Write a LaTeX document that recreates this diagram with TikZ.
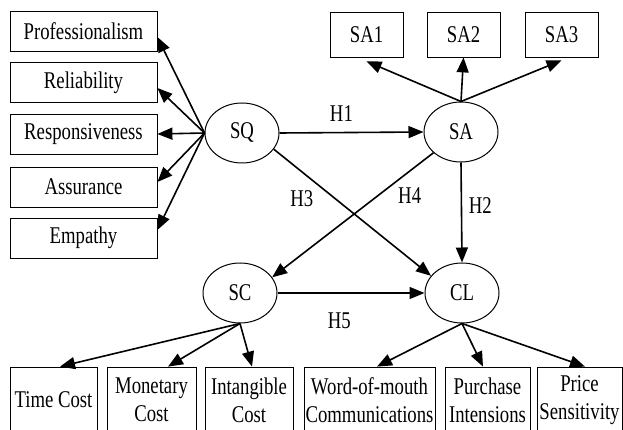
\documentclass[tikz,border=0pt]{standalone}
\usepackage{fontspec}
\setmainfont{Liberation Serif}[FakeStretch=0.78]
\usetikzlibrary{arrows.meta, shapes.geometric}

\begin{document}
\begin{tikzpicture}[
    x=1pt, y=-1pt,
    >={Triangle[length=15pt, width=12pt]},
    font=\fontsize{24}{28.4}\selectfont,
    dimbox/.style={
        draw, line width=0.8pt, inner sep=0pt,
        minimum width=147pt, minimum height=40pt,
    },
    subbox/.style={
        draw, line width=0.8pt, inner sep=0pt,
        minimum width=73pt, minimum height=45pt,
    },
    outbox/.style={
        draw, line width=0.8pt, inner sep=0pt,
        minimum height=66pt, align=center,
    },
    construct/.style={
        ellipse, draw, line width=1pt, inner sep=0pt,
        minimum width=74pt, minimum height=60pt,
    },
    arr/.style={->, line width=1.6pt},
    hyp/.style={inner sep=0pt},
]
\useasboundingbox (0,0) rectangle (623,430);

% Latent constructs
\node[construct] (sq) at (242,133) {SQ};
\node[construct] (sa) at (461,132) {SA};
\node[construct] (sc) at (240,293) {SC};
\node[construct] (cl) at (462,293) {CL};

% Service quality dimensions
\node[dimbox] (prof) at (83.5,31.5) {Professionalism};
\node[dimbox] (reli) at (83.5,82.5) {Reliability};
\node[dimbox] (resp) at (83.5,134) {Responsiveness};
\node[dimbox] (assu) at (83.5,187) {Assurance};
\node[dimbox] (empa) at (83.5,238) {Empathy};

% Satisfaction items
\node[subbox] (sa1) at (366.5,34.5) {SA1};
\node[subbox] (sa2) at (463.5,34.5) {SA2};
\node[subbox] (sa3) at (561.5,34.5) {SA3};

% Cost and loyalty indicators (cut off at the bottom)
\node[outbox, minimum width=87pt] (timecost) at (53.5,400) {Time Cost};
\node[outbox, minimum width=89pt] (monecost) at (151.5,400) {Monetary\\Cost};
\node[outbox, minimum width=88pt] (intacost) at (249,400) {Intangible\\Cost};
\node[outbox, minimum width=131pt] (wom) at (369.5,400) {Word-of-mouth\\Communications};
\node[outbox, minimum width=85pt] (purch) at (487.5,400) {Purchase\\Intensions};
\node[outbox, minimum width=85pt] (price) at (579.5,400) {Price\\Sensitivity};

% SQ -> dimensions
\draw[arr] (sq.west) -- ([yshift=-5.5pt]prof.east);
\draw[arr] (sq.west) -- ([yshift=-5.5pt]reli.east);
\draw[arr] (sq.west) -- (resp.east);
\draw[arr] (sq.west) -- ([yshift=5pt]assu.east);
\draw[arr] (sq.west) -- ([yshift=8pt]empa.east);

% SA -> items
\draw[arr] (sa.north) -- ([yshift=-4pt]sa1.south);
\draw[arr] (sa.north) -- (sa2.south |- sa1.south);
\draw[arr] (sa.north) -- ([yshift=-3pt]sa3.south);

% Hypotheses
\draw[arr] (sq.east) -- (sa.west)
    node[hyp, pos=0.43, above=9.9pt] (h1) {H1};
\draw[arr] (sa.south) -- (cl.north)
    node[hyp, pos=0.43, right=6.6pt] (h2) {H2};
\draw[arr] (sq.-27) -- (cl.151)
    node[hyp, pos=0.39, left=21pt] (h3) {H3};
\draw[arr] (sa.-143) -- (sc.26)
    node[hyp, pos=0.345, right=19.6pt] (h4) {H4};
\draw[arr] (sc.east) -- (cl.west)
    node[hyp, pos=0.42, below=18.9pt] (h5) {H5};

% SC -> cost indicators
\draw[arr] (sc.south) -- ([xshift=6.5pt]timecost.north);
\draw[arr] (sc.south) -- ([xshift=16.5pt]monecost.north);
\draw[arr] (sc.south) -- ([xshift=3pt]intacost.north);

% CL -> loyalty indicators
\draw[arr] (cl.south) -- ([xshift=7.5pt]wom.north);
\draw[arr] (cl.south) -- ([xshift=-4.5pt]purch.north);
\draw[arr] (cl.south) -- ([xshift=5.5pt]price.north);

\end{tikzpicture}
\end{document}
